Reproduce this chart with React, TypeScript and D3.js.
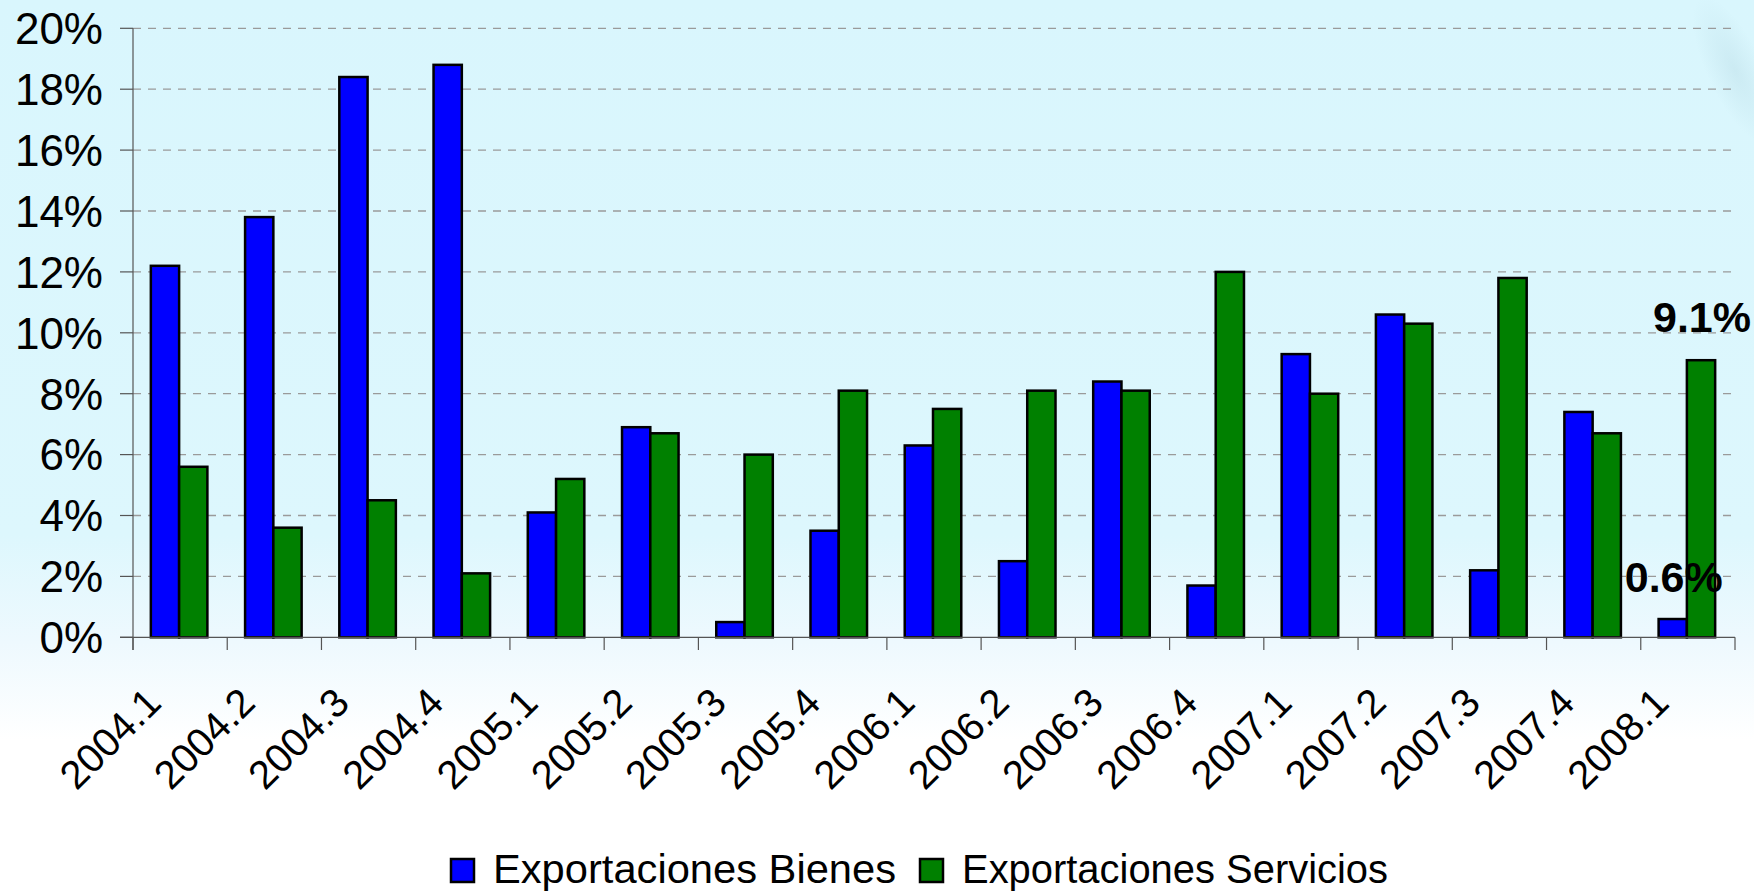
import React from "react";
import * as d3 from "d3";

const categories = [
  "2004.1", "2004.2", "2004.3", "2004.4",
  "2005.1", "2005.2", "2005.3", "2005.4",
  "2006.1", "2006.2", "2006.3", "2006.4",
  "2007.1", "2007.2", "2007.3", "2007.4",
  "2008.1",
];
const bienes = [12.2, 13.8, 18.4, 18.8, 4.1, 6.9, 0.5, 3.5, 6.3, 2.5, 8.4, 1.7, 9.3, 10.6, 2.2, 7.4, 0.6];
const servicios = [5.6, 3.6, 4.5, 2.1, 5.2, 6.7, 6.0, 8.1, 7.5, 8.1, 8.1, 12.0, 8.0, 10.3, 11.8, 6.7, 9.1];
const yTicks = [0, 2, 4, 6, 8, 10, 12, 14, 16, 18, 20];
const seriesNames = ["Exportaciones Bienes", "Exportaciones Servicios"];
const seriesColors = ["#0000FF", "#008000"];

const W = 1754;
const H = 892;
const FONT = "Arial, 'Liberation Sans', sans-serif";

export default function App() {
  const x = d3.scaleBand<string>().domain(categories).range([133, 1735]).paddingInner(0).paddingOuter(0);
  const y = d3.scaleLinear().domain([0, 20]).range([637.3, 28.3]);
  const bw = x.bandwidth() * 0.3;
  const series = [bienes, servicios];
  const last = categories.length - 1;

  return (
    <svg width={W} height={H} style={{ position: "absolute", left: 0, top: 0 }} fontFamily={FONT}>
      <defs>
        <linearGradient id="bg" x1="0" y1="0" x2="0" y2="1">
          <stop offset="0" stopColor="#d9f6fd" />
          <stop offset="0.6" stopColor="#ddf7fd" />
          <stop offset="0.72" stopColor="#eef9fe" />
          <stop offset="0.83" stopColor="#ffffff" />
          <stop offset="1" stopColor="#ffffff" />
        </linearGradient>
        <radialGradient id="deco" cx="0.5" cy="0.5" r="0.5">
          <stop offset="0" stopColor="#c2e3ec" stopOpacity="0.6" />
          <stop offset="1" stopColor="#c2e3ec" stopOpacity="0" />
        </radialGradient>
      </defs>
      <rect x={0} y={0} width={W} height={H} fill="url(#bg)" />
      <ellipse cx={1735} cy={70} rx={28} ry={80} fill="url(#deco)" transform="rotate(-25 1735 70)" />

      {/* gridlines */}
      {yTicks.filter((t) => t > 0).map((t) => (
        <line key={"g" + t} x1={133} x2={1735} y1={y(t)} y2={y(t)} stroke="#9a9a9a" strokeWidth={1.3} strokeDasharray="8,7" />
      ))}

      {/* bars */}
      {categories.map((c, i) => {
        const cx = (x(c) as number) + x.bandwidth() / 2;
        return (
          <g key={c}>
            {series.map((s, k) => (
              <rect
                key={k}
                x={cx - bw + k * bw - 1}
                y={y(s[i])}
                width={bw}
                height={y(0) - y(s[i])}
                fill={seriesColors[k]}
                stroke="#000"
                strokeWidth={2.5}
              />
            ))}
          </g>
        );
      })}

      {/* axes */}
      <line x1={133} x2={133} y1={y(20)} y2={650} stroke="#555" strokeWidth={1.2} />
      <line x1={120} x2={1735} y1={y(0)} y2={y(0)} stroke="#555" strokeWidth={1.2} />
      {yTicks.map((t) => (
        <g key={"yt" + t}>
          <line x1={120} x2={133} y1={y(t)} y2={y(t)} stroke="#555" strokeWidth={1.2} />
          <text x={103} y={y(t)} dy="0.36em" textAnchor="end" fontSize={44} fill="#000">
            {t + "%"}
          </text>
        </g>
      ))}
      {categories.map((c, i) => (
        <line key={"xt" + i} x1={x(c) as number} x2={x(c) as number} y1={y(0)} y2={650} stroke="#555" strokeWidth={1.2} />
      ))}
      <line x1={1735} x2={1735} y1={y(0)} y2={650} stroke="#555" strokeWidth={1.2} />
      {categories.map((c) => {
        const cx = (x(c) as number) + x.bandwidth() / 2;
        const ex = cx - 17;
        const ey = 705;
        return (
          <text key={"xl" + c} x={ex} y={ey} textAnchor="end" fontSize={40} fill="#000" transform={`rotate(-45 ${ex} ${ey})`}>
            {c}
          </text>
        );
      })}

      {/* annotations on last category */}
      {(() => {
        const cx = (x(categories[last]) as number) + x.bandwidth() / 2;
        return (
          <g fontWeight="bold" fontSize={43} fill="#000" textAnchor="middle">
            <text x={cx + bw / 2} y={y(servicios[last]) - 28}>{servicios[last].toFixed(1) + "%"}</text>
            <text x={cx - bw / 2} y={y(bienes[last]) - 27}>{bienes[last].toFixed(1) + "%"}</text>
          </g>
        );
      })()}

      {/* legend */}
      <rect x={451} y={859} width={23} height={23} fill={seriesColors[0]} stroke="#000" strokeWidth={2.5} />
      <text x={493} y={883} fontSize={40} textLength={403} lengthAdjust="spacingAndGlyphs" fill="#000">
        {seriesNames[0]}
      </text>
      <rect x={920} y={859} width={23} height={23} fill={seriesColors[1]} stroke="#000" strokeWidth={2.5} />
      <text x={962} y={883} fontSize={40} textLength={426} lengthAdjust="spacingAndGlyphs" fill="#000">
        {seriesNames[1]}
      </text>
    </svg>
  );
}
